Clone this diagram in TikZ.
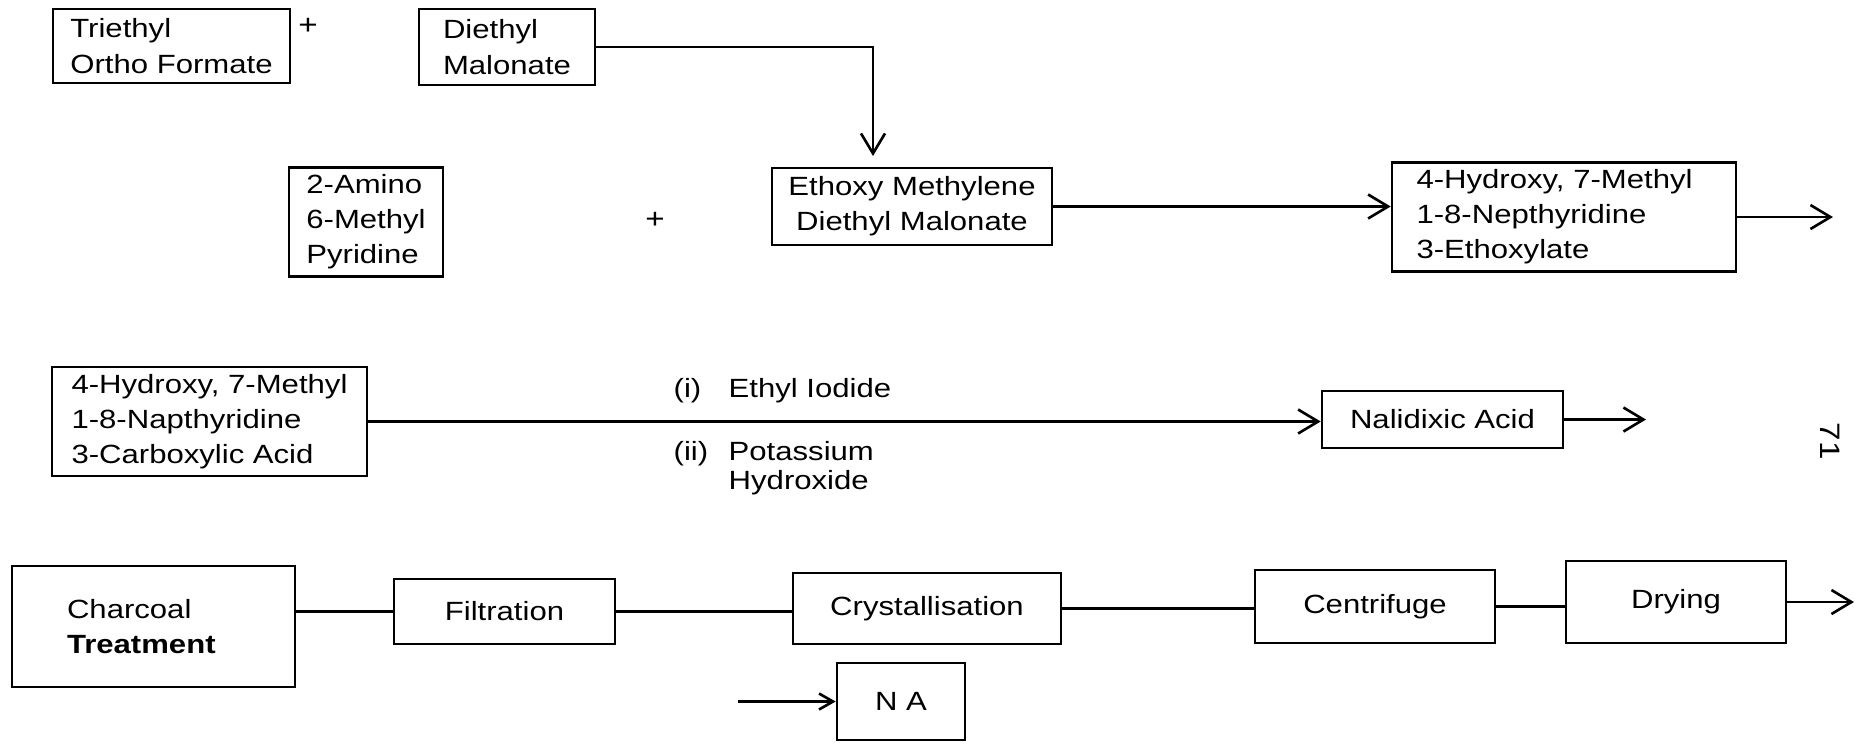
\documentclass[tikz,border=0pt]{standalone}
\usepackage{fontspec}
\setmainfont{Liberation Sans}[FakeStretch=1.18]
\usetikzlibrary{arrows.meta,positioning}

\begin{document}
\begin{tikzpicture}[x=0.1mm,y=-0.1mm,
    font=\fontsize{7.5pt}{10pt}\selectfont,
    blk/.style={draw,line width=0.75pt,align=left,inner sep=2pt},
    lbl/.style={inner sep=0pt,align=left},
    arr/.style={line width=0.75pt,-{Straight Barb[length=2mm,width=2.4mm]}},
    link/.style={line width=0.75pt}]
  \useasboundingbox (0,0) rectangle (1857,743);
  % first stage
  \node[blk,minimum width=23.7mm,minimum height=7.4mm] (trieth) at (171.5,46) {Triethyl\\Ortho Formate};
  \node[lbl,font=\fontsize{8pt}{8pt}\selectfont] (plusA) at (308,26) {+};
  \node[blk,minimum width=17.6mm,minimum height=7.6mm] (diethyl) at (507,47) {Diethyl\\Malonate};
  \node[blk,minimum width=15.4mm,minimum height=10mm] (amino) at (366,222) {2-Amino\\6-Methyl\\Pyridine};
  \node[lbl,font=\fontsize{8pt}{8pt}\selectfont] (plusB) at (655,220) {+};
  \node[blk,align=center,minimum width=28mm,minimum height=7.7mm] (ethoxy) at (912,206.5) {Ethoxy Methylene\\Diethyl Malonate};
  \node[blk,text width=29.5mm,minimum width=34.4mm,minimum height=10.8mm] (hydEst) at (1564,217) {4-Hydroxy, 7-Methyl\\1-8-Nepthyridine\\3-Ethoxylate};
  \coordinate (emIn) at (873,156);
  \coordinate (hydOut) at (1833,217);
  \draw[arr] (diethyl.east) -| (emIn);
  \draw[arr] (ethoxy.east) -- (ethoxy.east -| hydEst.west);
  \draw[arr] (hydEst.east) -- (hydOut);
  % second stage
  \node[blk,minimum width=31.5mm,minimum height=10.9mm] (hydAcid) at (209.5,421.5) {4-Hydroxy, 7-Methyl\\1-8-Napthyridine\\3-Carboxylic Acid};
  \node[blk,minimum width=24.1mm,minimum height=5.7mm] (nali) at (1442.5,419.5) {Nalidixic Acid};
  \coordinate (naliOut) at (1646,419.5);
  \draw[arr] (hydAcid.east) -- (hydAcid.east -| nali.west);
  \draw[arr] (nali.east) -- (naliOut);
  \node[lbl,anchor=base west] (reagA) at (673,397) {\makebox[5.5mm][l]{(i)}Ethyl Iodide};
  \node[lbl,anchor=base west,font=\fontsize{7.5pt}{8.2pt}\selectfont] (reagB) at (673,489) {\makebox[5.5mm][l]{(ii)}Potassium\\\hspace*{5.5mm}Hydroxide};
  \node[lbl,rotate=-90,font=\fontsize{8pt}{8pt}\selectfont] (pageno) at (1830,441) {71};
  % purification
  \node[blk,text width=17.3mm,minimum width=28.3mm,minimum height=12.1mm] (charcoal) at (153.5,626.5) {Charcoal\\\textbf{Treatment}};
  \node[blk,minimum width=22.1mm,minimum height=6.5mm] (filt) at (504.5,611.5) {Filtration};
  \node[blk,minimum width=26.8mm,minimum height=7.1mm] (cryst) at (927,608.5) {Crystallisation};
  \node[blk,minimum width=24mm,minimum height=7.3mm] (cent) at (1375,606.5) {Centrifuge};
  \node[blk,minimum width=22mm,minimum height=8.2mm] (dry) at (1676,602) {Drying};
  \node[blk,minimum width=12.8mm,minimum height=7.7mm] (na) at (901,701.5) {N\,\,A};
  \coordinate (dryOut) at (1854,602);
  \coordinate (naIn) at (738,701.5);
  \draw[link] (charcoal.east |- filt.west) -- (filt.west);
  \draw[link] (filt.east) -- (filt.east -| cryst.west);
  \draw[link] (cryst.east) -- (cryst.east -| cent.west);
  \draw[link] (cent.east) -- (cent.east -| dry.west);
  \draw[arr] (dry.east) -- (dryOut);
  \draw[arr,-{Straight Barb[length=1.4mm,width=1.6mm]}] (naIn) -- (na.west);
\end{tikzpicture}
\end{document}
